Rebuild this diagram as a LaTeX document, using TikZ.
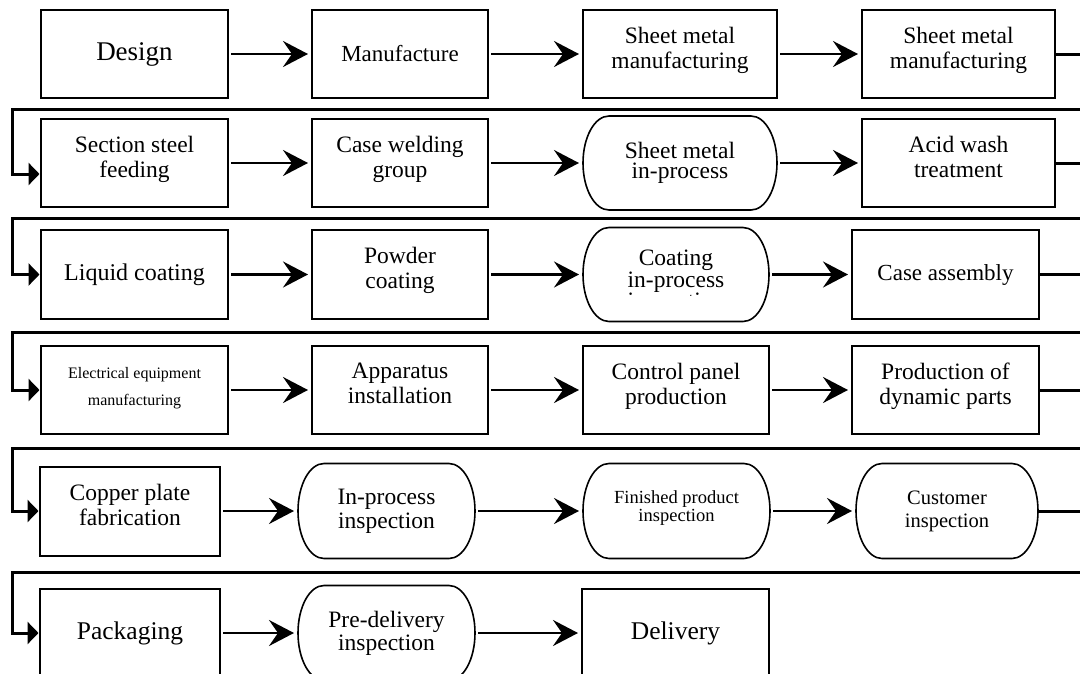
\documentclass[tikz,border=0pt]{standalone}
\usepackage{fontspec}
\setmainfont{Liberation Serif}
\usetikzlibrary{arrows.meta}

% invisible strut that deepens the last text line
\newcommand\lift[1]{\rule[-#1]{0pt}{#1}}
% horizontal radius of the rounded ends of the inspection shapes
\newcommand\termr{26pt}
% outline of a terminal node: straight top and bottom, elliptic ends
\newcommand\stadium[2]{%
  \draw[termline] ([xshift=\termr]#1.north west) -- ([xshift=-\termr]#1.north east)
    arc[start angle=90,end angle=-90,x radius=\termr,y radius=#2]
    -- ([xshift=\termr]#1.south west)
    arc[start angle=270,end angle=90,x radius=\termr,y radius=#2] -- cycle;}

\begin{document}
\begin{tikzpicture}[x=1pt,y=-1pt,
  box/.style={draw, line width=2pt, rectangle, inner sep=2pt, outer sep=0pt,
    align=center, minimum height=88pt, font=\fontsize{23.5}{25}\selectfont},
  term/.style={rectangle, inner sep=2pt, outer sep=0pt, align=center,
    minimum height=94pt, font=\fontsize{23.5}{23.5}\selectfont},
  termline/.style={line width=1.6pt},
  flow/.style={line width=2.5pt, -{Stealth[length=25pt,width=26pt,inset=9pt]},
    shorten <=3pt, shorten >=4pt},
  ret/.style={line width=3pt, line join=miter,
    -{Triangle[length=11pt,width=22pt]}, shorten >=1.5pt}]

\useasboundingbox (0,0) rectangle (1080,673);
\clip (0,0) rectangle (1080,673);

% row 1
\node[box, minimum width=187pt, font=\fontsize{27}{30}\selectfont] (a1) at (134.5,54) {Design};
\node[box, minimum width=176pt, font=\fontsize{23}{25}\selectfont] (a2) at (400,54) {Manufacture};
\node[box, minimum width=194pt] (a3) at (680,54) {Sheet metal\\manufacturing\lift{13pt}};
\node[box, minimum width=193pt] (a4) at (958.5,54) {Sheet metal\\manufacturing\lift{13pt}};

% row 2
\node[box, minimum width=187pt] (b1) at (134.5,163) {Section steel\\feeding\lift{13pt}};
\node[box, minimum width=176pt] (b2) at (400,163) {Case welding\\group\lift{13pt}};
\node[term, minimum width=194pt, font=\fontsize{23.5}{20.5}\selectfont] (b3) at (680,163) {Sheet metal\\in-process};
\node[box, minimum width=193pt] (b4) at (958.5,163) {Acid wash\\treatment\lift{13pt}};

% row 3
\node[box, minimum width=187pt, minimum height=89pt, font=\fontsize{24}{25}\selectfont] (c1) at (134.5,274.5) {Liquid coating};
\node[box, minimum width=176pt, minimum height=89pt] (c2) at (400,274.5) {Powder\\coating\lift{13pt}};
\node[term, minimum width=186pt, font=\fontsize{23.5}{20}\selectfont] (c3) at (676,274.5) {Coating\\in-process\lift{11pt}};
\node[box, minimum width=187pt, minimum height=89pt, font=\fontsize{23}{25}\selectfont] (c4) at (945.5,274.5) {Case assembly};
\begin{scope}
  \clip (583,230) rectangle (769,295);
  \node[inner sep=0pt, anchor=base, font=\fontsize{23.5}{20}\selectfont] (c3x) at (676,308) {inspection};
\end{scope}

% row 4
\node[box, minimum width=187pt, font=\fontsize{16}{27}\selectfont] (d1) at (134.5,390) {Electrical equipment\\manufacturing\lift{8pt}};
\node[box, minimum width=176pt] (d2) at (400,390) {Apparatus\\installation\lift{13pt}};
\node[box, minimum width=186pt] (d3) at (676,390) {Control panel\\production\lift{13pt}};
\node[box, minimum width=187pt] (d4) at (945.5,390) {Production of\\dynamic parts\lift{13pt}};

% row 5
\node[box, minimum width=180pt, minimum height=89pt] (e1) at (130,511) {Copper plate\\fabrication\lift{13pt}};
\node[term, minimum width=177pt, minimum height=95pt, font=\fontsize{23.5}{24}\selectfont] (e2) at (386.5,511) {In-process\\inspection};
\node[term, minimum width=187pt, minimum height=95pt, font=\fontsize{18.5}{17.5}\selectfont] (e3) at (676.5,511) {Finished product\\inspection\lift{10pt}};
\node[term, minimum width=182pt, minimum height=95pt, font=\fontsize{20.5}{23}\selectfont] (e4) at (947,511) {Customer\\inspection};

% row 6
\node[box, minimum width=180pt, font=\fontsize{25.5}{28}\selectfont] (f1) at (130,633) {Packaging};
\node[term, minimum width=177pt, minimum height=95pt, font=\fontsize{23.5}{23}\selectfont] (f2) at (386.5,633) {Pre-delivery\\inspection};
\node[box, minimum width=187pt, font=\fontsize{25.5}{28}\selectfont] (f3) at (675.5,633) {Delivery};

% rounded outlines of the inspection steps
\stadium{b3}{47pt}
\stadium{c3}{47pt}
\stadium{e2}{47.5pt}
\stadium{e3}{47.5pt}
\stadium{e4}{47.5pt}
\stadium{f2}{47.5pt}

% flow within each row
\draw[flow] (a1.east) -- (a2.west);
\draw[flow] (a2.east) -- (a3.west);
\draw[flow] (a3.east) -- (a4.west);
\draw[flow] (b1.east) -- (b2.west);
\draw[flow] (b2.east) -- (b3.west);
\draw[flow] (b3.east) -- (b4.west);
\draw[flow] (c1.east) -- (c2.west);
\draw[flow] (c2.east) -- (c3.west);
\draw[flow] (c3.east) -- (c4.west);
\draw[flow] (d1.east) -- (d2.west);
\draw[flow] (d2.east) -- (d3.west);
\draw[flow] (d3.east) -- (d4.west);
\draw[flow] (e1.east) -- (e2.west);
\draw[flow] (e2.east) -- (e3.west);
\draw[flow] (e3.east) -- (e4.west);
\draw[flow] (f1.east) -- (f2.west);
\draw[flow] (f2.east) -- (f3.west);

% return lines from the end of one row to the start of the next
\draw[ret] (a4.east) -- ++(60,0) |- (12,109) |- ([yshift=-11pt]b1.west);
\draw[ret] (b4.east) -- ++(60,0) |- (12,218) |- (c1.west);
\draw[ret] (c4.east) -- ++(60,0) |- (12,332) |- (d1.west);
\draw[ret] (d4.east) -- ++(60,0) |- (12,448) |- (e1.west);
\draw[ret] (e4.east) -- ++(60,0) |- (12,572) |- (f1.west);
\end{tikzpicture}
\end{document}
